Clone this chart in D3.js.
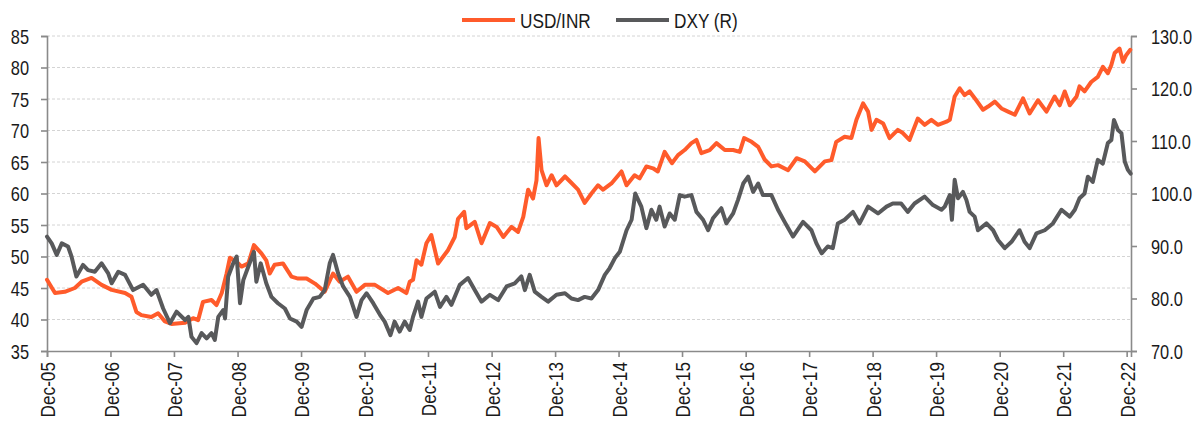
<!DOCTYPE html>
<html><head><meta charset="utf-8">
<script src="https://cdn.jsdelivr.net/npm/d3@7/dist/d3.min.js"></script>
<style>
body{margin:0;background:#fff;}
svg text{font-family:"Liberation Sans",Arial,sans-serif;fill:#1a1a1a;}
</style></head><body>
<svg id="chart" width="1199" height="421"></svg>
<script>
const seriesNames = ["USD/INR", "DXY (R)"];

const inrDates = ["2005-12-01","2006-01-16","2006-03-13","2006-05-10","2006-06-18","2006-08-14","2006-10-11","2006-12-08","2007-02-23","2007-04-01","2007-04-29","2007-05-28","2007-07-24","2007-09-01","2007-10-10","2007-11-17","2008-02-03","2008-03-20","2008-04-18","2008-05-16","2008-07-04","2008-08-02","2008-09-01","2008-09-29","2008-10-18","2008-12-05","2008-12-24","2009-02-01","2009-03-05","2009-04-17","2009-05-15","2009-06-04","2009-07-02","2009-08-19","2009-10-07","2009-11-14","2010-01-02","2010-02-19","2010-04-16","2010-06-03","2010-07-11","2010-08-28","2010-10-16","2010-12-03","2011-01-30","2011-04-15","2011-06-12","2011-07-30","2011-08-18","2011-09-06","2011-09-26","2011-10-24","2011-11-22","2011-12-20","2012-01-28","2012-03-25","2012-05-03","2012-05-22","2012-06-26","2012-07-09","2012-08-26","2012-10-04","2012-11-21","2012-12-30","2013-02-06","2013-03-25","2013-05-02","2013-06-01","2013-06-29","2013-07-27","2013-08-16","2013-08-28","2013-09-14","2013-10-13","2013-11-11","2013-12-09","2014-01-27","2014-02-25","2014-04-12","2014-05-20","2014-06-28","2014-08-05","2014-09-03","2014-10-21","2014-12-18","2015-01-16","2015-03-03","2015-04-01","2015-05-10","2015-06-17","2015-07-15","2015-08-23","2015-10-04","2015-11-08","2015-12-16","2016-01-24","2016-02-22","2016-03-21","2016-05-08","2016-06-16","2016-08-03","2016-09-20","2016-10-28","2016-11-22","2017-01-04","2017-02-11","2017-03-20","2017-04-28","2017-06-05","2017-08-02","2017-09-20","2017-11-06","2018-01-03","2018-03-01","2018-04-08","2018-05-06","2018-06-23","2018-08-01","2018-08-30","2018-10-07","2018-11-05","2018-11-25","2018-12-23","2019-01-31","2019-03-08","2019-04-25","2019-05-24","2019-07-01","2019-08-18","2019-09-26","2019-11-04","2019-12-12","2020-01-30","2020-02-18","2020-03-17","2020-04-15","2020-05-13","2020-06-11","2020-07-19","2020-08-27","2020-09-25","2020-11-03","2020-12-11","2021-01-18","2021-02-26","2021-04-14","2021-05-22","2021-07-09","2021-08-27","2021-10-13","2021-11-11","2021-12-10","2022-01-08","2022-02-16","2022-03-05","2022-04-03","2022-05-11","2022-06-18","2022-07-17","2022-08-15","2022-09-04","2022-09-23","2022-10-21","2022-11-10","2022-11-29","2022-12-22"];
const inrValues = [46.3,44.2,44.4,45.0,46.0,46.6,45.5,44.7,44.2,43.6,41.2,40.7,40.4,41.0,39.7,39.3,39.5,40.2,39.9,42.8,43.1,42.3,44.2,47.3,49.8,48.9,48.4,48.9,51.8,50.5,49.4,47.3,48.7,48.9,46.8,46.5,46.5,45.7,44.4,47.3,46.0,46.8,44.4,45.5,45.5,44.2,45.0,44.2,46.0,46.3,49.4,48.7,52.1,53.4,48.9,51.0,53.1,56.0,57.1,54.5,55.5,52.1,55.3,54.7,53.1,54.7,53.9,56.3,60.6,59.2,62.1,68.8,63.7,61.3,62.9,61.3,62.7,61.9,60.6,58.5,60.0,61.3,60.6,61.6,63.5,61.3,62.9,62.4,64.3,64.0,63.5,66.6,64.8,66.1,66.9,68.0,68.5,66.4,66.9,68.0,66.9,66.9,66.6,68.8,68.2,67.4,65.4,64.3,64.5,63.7,65.6,65.1,63.5,65.1,65.3,68.2,69.0,68.8,71.7,74.3,73.0,70.1,71.7,71.1,68.8,70.1,69.6,68.5,71.9,70.9,71.7,70.9,71.4,71.7,75.4,76.7,75.6,76.2,74.8,73.3,73.8,74.6,73.5,73.0,72.5,75.1,72.7,74.8,73.0,75.4,74.0,76.2,74.0,75.4,77.0,76.2,77.7,78.5,80.1,79.1,80.4,82.3,83.0,80.9,82.0,82.8];

const dxyDates = ["2005-12-01","2005-12-28","2006-01-26","2006-02-24","2006-04-01","2006-04-21","2006-05-19","2006-06-26","2006-07-25","2006-09-02","2006-10-11","2006-11-18","2006-12-08","2007-01-15","2007-02-23","2007-04-10","2007-06-07","2007-07-24","2007-08-23","2007-09-30","2007-11-08","2007-12-16","2008-02-03","2008-02-22","2008-03-11","2008-04-09","2008-05-08","2008-06-06","2008-07-04","2008-07-23","2008-08-12","2008-09-10","2008-09-20","2008-10-08","2008-11-06","2008-11-26","2008-12-15","2009-01-03","2009-02-01","2009-03-05","2009-03-19","2009-04-13","2009-05-15","2009-06-14","2009-07-21","2009-08-30","2009-09-28","2009-11-06","2009-12-04","2010-01-02","2010-02-10","2010-03-18","2010-04-16","2010-05-15","2010-06-03","2010-07-02","2010-07-31","2010-09-08","2010-10-16","2010-11-14","2010-12-13","2011-01-20","2011-02-28","2011-03-27","2011-04-29","2011-05-23","2011-06-21","2011-07-20","2011-08-18","2011-09-06","2011-10-05","2011-10-24","2011-11-22","2012-01-09","2012-02-08","2012-03-16","2012-04-14","2012-06-01","2012-07-18","2012-08-26","2012-10-04","2012-11-21","2013-01-08","2013-02-25","2013-04-13","2013-05-21","2013-06-10","2013-07-08","2013-08-06","2013-09-14","2013-10-22","2013-12-09","2014-01-27","2014-03-05","2014-04-12","2014-05-20","2014-06-28","2014-08-05","2014-09-13","2014-10-11","2014-11-10","2014-12-08","2015-01-16","2015-02-14","2015-03-07","2015-04-11","2015-05-10","2015-06-08","2015-07-06","2015-07-25","2015-08-23","2015-09-21","2015-10-20","2015-11-18","2015-12-16","2016-01-24","2016-02-22","2016-03-31","2016-04-29","2016-05-27","2016-07-14","2016-08-12","2016-09-20","2016-10-18","2016-11-17","2016-12-15","2017-01-13","2017-02-11","2017-03-10","2017-04-28","2017-06-05","2017-07-13","2017-08-30","2017-10-27","2017-12-14","2018-01-12","2018-02-11","2018-03-18","2018-04-16","2018-05-15","2018-06-23","2018-08-10","2018-09-17","2018-11-05","2019-01-01","2019-02-19","2019-03-27","2019-05-14","2019-06-21","2019-07-30","2019-09-26","2019-11-13","2020-01-01","2020-01-20","2020-02-18","2020-03-01","2020-03-17","2020-04-05","2020-05-03","2020-05-23","2020-06-11","2020-07-10","2020-07-29","2020-09-16","2020-10-24","2020-11-22","2020-12-30","2021-02-07","2021-03-25","2021-04-23","2021-05-22","2021-06-30","2021-08-17","2021-10-03","2021-11-21","2022-01-08","2022-02-06","2022-03-05","2022-04-03","2022-04-22","2022-05-20","2022-06-18","2022-07-17","2022-08-15","2022-09-04","2022-09-19","2022-10-12","2022-11-01","2022-11-20","2022-12-08","2022-12-24"];
const dxyValues = [91.8,90.5,88.3,90.5,89.9,88.0,84.2,86.4,85.4,85.1,86.7,84.8,82.9,85.1,84.5,81.6,82.6,80.7,81.6,78.1,75.3,77.5,75.9,76.5,72.7,71.5,73.4,72.4,73.4,72.1,76.5,77.8,76.2,84.2,86.7,88.0,79.1,83.5,86.1,88.9,83.2,86.7,82.9,80.3,79.1,78.1,76.2,75.6,74.6,77.8,80.0,80.3,81.6,86.7,88.3,84.8,82.3,80.3,76.5,79.7,81.0,79.1,76.9,75.6,73.0,75.6,73.7,75.6,74.0,76.5,79.4,76.5,80.0,81.3,78.4,80.3,78.8,82.6,83.9,81.6,79.4,80.7,79.7,82.3,82.9,84.2,81.6,84.5,81.3,80.3,79.4,80.7,81.0,80.0,79.7,80.3,80.0,81.6,84.5,85.8,87.7,88.9,93.0,95.0,100.0,97.5,93.4,96.9,95.0,97.5,93.7,96.2,95.0,99.7,99.4,99.7,96.5,95.0,93.0,95.3,97.2,94.3,96.2,98.8,101.9,103.2,100.3,101.9,99.7,99.7,96.9,94.6,91.8,94.6,93.0,90.5,88.6,89.9,89.6,94.3,95.0,96.5,94.3,97.5,96.2,97.5,98.1,98.1,96.5,98.1,99.4,97.8,96.9,97.5,99.7,95.0,102.6,99.1,100.3,98.8,96.5,95.6,93.0,94.3,93.0,91.1,89.6,90.8,93.0,90.8,89.6,92.4,93.0,94.3,96.9,95.6,96.9,99.1,100.0,103.2,102.2,106.4,105.7,109.6,110.2,114.0,112.1,111.5,106.1,104.5,103.8];

const leftTicks = [35,40,45,50,55,60,65,70,75,80,85];
const rightTicks = [70,80,90,100,110,120,130];
const xTickDates = ["2005-12-01","2006-12-01","2007-12-01","2008-12-01","2009-12-01","2010-12-01","2011-12-01","2012-12-01","2013-12-01","2014-12-01","2015-12-01","2016-12-01","2017-12-01","2018-12-01","2019-12-01","2020-12-01","2021-12-01","2022-12-01"];

const parse = d3.timeParse("%Y-%m-%d");
const inr = inrDates.map((d,i)=>({date:parse(d), v:inrValues[i]}));
const dxy = dxyDates.map((d,i)=>({date:parse(d), v:dxyValues[i]}));

const L = 47, R = 1131, T = 36, B = 351;
const svg = d3.select("#chart");
const x = d3.scaleTime().domain([parse("2005-12-01"), parse("2022-12-26")]).range([L, R]);
const yL = d3.scaleLinear().domain([35,85]).range([B, T]);
const yR = d3.scaleLinear().domain([70,130]).range([B, T]);

const axisColor = "#8a8a8a";
const fs = 20;
const narrow = 0.82;

// gridlines
svg.append("g").selectAll("line").data(leftTicks.filter(t=>t>35)).join("line")
  .attr("x1", L).attr("x2", R)
  .attr("y1", d=>yL(d)).attr("y2", d=>yL(d))
  .attr("stroke", "#d4d4d4").attr("stroke-width", 1).attr("stroke-dasharray", "3,2");

// axes
const gL = svg.append("g").attr("transform", `translate(${L},0)`)
  .call(d3.axisLeft(yL).tickValues(leftTicks).tickSize(6).tickFormat(d3.format("d")));
const gR = svg.append("g").attr("transform", `translate(${R},0)`)
  .call(d3.axisRight(yR).tickValues(rightTicks).tickSize(6).tickFormat(d3.format(".1f")));
const gB = svg.append("g").attr("transform", `translate(0,${B})`)
  .call(d3.axisBottom(x).tickValues(xTickDates.map(parse)).tickSize(6).tickFormat(d3.timeFormat("%b-%y")));
[gL,gR,gB].forEach(g=>{
  g.selectAll("path.domain").attr("stroke", axisColor).attr("stroke-width", 1.6);
  g.selectAll(".tick line").attr("stroke", axisColor).attr("stroke-width", 1.6);
  g.selectAll("text").attr("font-size", fs).attr("fill", "#1a1a1a");
});
gL.selectAll(".tick text").attr("x", 0).attr("dy", "0.35em")
  .attr("transform", `translate(-18,0) scale(${narrow},1)`);
gR.selectAll(".tick text").attr("x", 0).attr("dy", "0.35em")
  .attr("transform", `translate(20,0) scale(${narrow},1)`);
gB.selectAll(".tick text")
  .attr("text-anchor", "end").attr("font-size", 21)
  .attr("x", 0).attr("y", 0).attr("dy", "0.36em")
  .attr("transform", `rotate(-90) translate(-11,0) scale(${narrow},1)`);

// lines
const lineL = d3.line().x(d=>x(d.date)).y(d=>yL(d.v));
const lineR = d3.line().x(d=>x(d.date)).y(d=>yR(d.v));
const colors = ["#FF5B2B", "#58595B"];
svg.append("path").datum(inr).attr("d", lineL).attr("fill","none")
  .attr("stroke", colors[0]).attr("stroke-width", 4).attr("stroke-linejoin","round").attr("stroke-linecap","round");
svg.append("path").datum(dxy).attr("d", lineR).attr("fill","none")
  .attr("stroke", colors[1]).attr("stroke-width", 4).attr("stroke-linejoin","round").attr("stroke-linecap","round");

// legend
const legend = svg.append("g");
const legX = [462, 616];
seriesNames.forEach((n,i)=>{
  legend.append("line").attr("x1", legX[i]).attr("x2", legX[i]+53).attr("y1", 20).attr("y2", 20)
    .attr("stroke", colors[i]).attr("stroke-width", 4);
  legend.append("text").attr("x", 0).attr("y", 0).attr("font-size", 21)
    .attr("transform", `translate(${legX[i]+58},28) scale(${narrow},1)`).text(n);
});
</script>
</body></html>
